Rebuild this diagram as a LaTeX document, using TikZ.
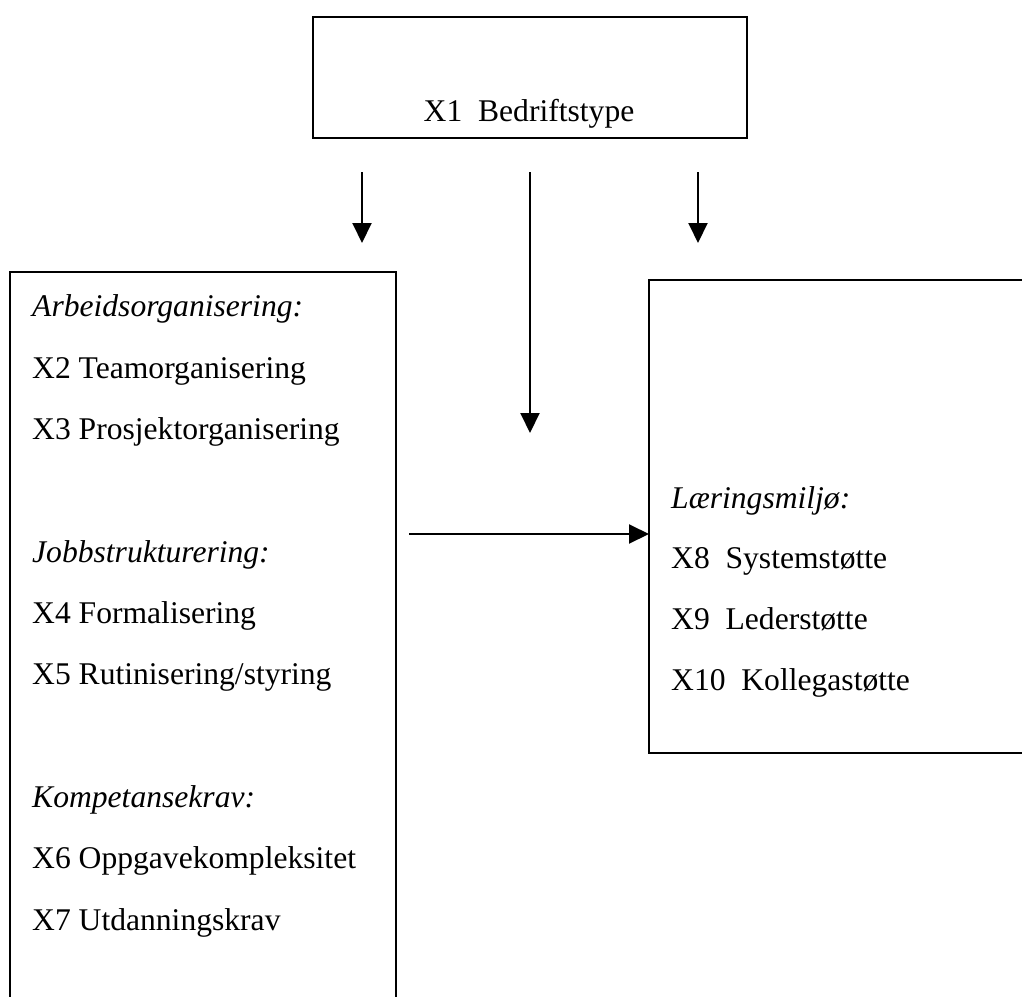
\documentclass[tikz,border=0pt]{standalone}
\usepackage{fontspec}
\setmainfont{Liberation Serif}
\usetikzlibrary{arrows.meta}
\tikzset{
  boxshape/.style={draw, line width=2.2pt, outer sep=0pt, inner sep=0pt, anchor=north west},
  txt/.style={inner sep=0pt, anchor=base west, font=\fontsize{31.6}{36}\selectfont},
  head/.style={txt, font=\fontsize{31.6}{36}\selectfont\itshape},
  conn/.style={line width=2pt, -{Triangle[length=20pt,width=19pt]}}
}
\begin{document}
\begin{tikzpicture}[x=1pt,y=-1pt]
\useasboundingbox (0,0) rectangle (1022,996);
\clip (0,0) rectangle (1022,996);
% boxes
\node[boxshape, minimum width=434pt, minimum height=121pt] (top) at (313,17) {};
\node[boxshape, minimum width=386pt, minimum height=800pt] (L) at (10,272) {};
\node[boxshape, minimum width=420pt, minimum height=473pt] (R) at (649,280) {};
% top label
\node[inner sep=0pt, anchor=base, font=\fontsize{31.6}{36}\selectfont] (t1) at (529,121) {X1~~Bedriftstype};
% left texts
\node[head] (l1) at (32,316) {Arbeidsorganisering:};
\node[txt]  (l2) at (32,378) {X2 Teamorganisering};
\node[txt]  (l3) at (32,439) {X3 Prosjektorganisering};
\node[head] (l4) at (32,562) {Jobbstrukturering:};
\node[txt]  (l5) at (32,623) {X4 Formalisering};
\node[txt]  (l6) at (32,684) {X5 Rutinisering/styring};
\node[head] (l7) at (32,807) {Kompetansekrav:};
\node[txt]  (l8) at (32,868) {X6 Oppgavekompleksitet};
\node[txt]  (l9) at (32,930) {X7 Utdanningskrav};
% right texts
\node[head] (r1) at (671,508) {Læringsmiljø:};
\node[txt]  (r2) at (671,568) {X8~~Systemstøtte};
\node[txt]  (r3) at (671,629) {X9~~Lederstøtte};
\node[txt]  (r4) at (671,690) {X10~~Kollegastøtte};
% connector end points
\coordinate (a1s) at (362,172);
\coordinate (a1e) at (362,243);
\coordinate (a2s) at (530,172);
\coordinate (a2e) at (530,433);
\coordinate (a3s) at (698,172);
\coordinate (a3e) at (698,243);
\coordinate (hs) at (409,534);
% connectors
\draw[conn] (a1s) -- (a1e);
\draw[conn] (a2s) -- (a2e);
\draw[conn] (a3s) -- (a3e);
\draw[conn] (hs) -- (R.west |- hs);
\end{tikzpicture}
\end{document}
